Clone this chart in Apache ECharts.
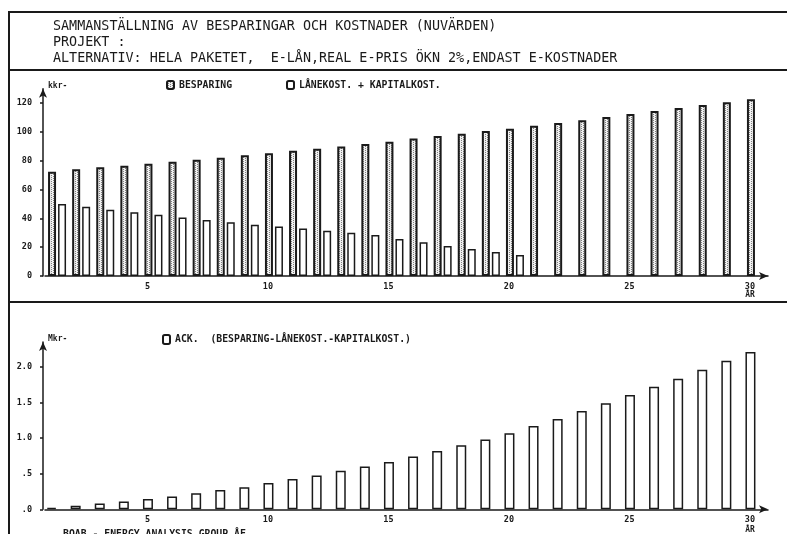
<!DOCTYPE html>
<html>
<head>
<meta charset="utf-8">
<script src="https://cdn.jsdelivr.net/npm/echarts@6/dist/echarts.min.js"></script>
<style>
html,body{margin:0;padding:0;background:#fff;}
#c{width:787px;height:534px;}
</style>
</head>
<body>
<div id="c"></div>
<script>
// ---- data ----
const years = ['1','2','3','4','5','6','7','8','9','10','11','12','13','14','15','16','17','18','19','20','21','22','23','24','25','26','27','28','29','30'];
const besparing = [72.4,74.1,75.5,76.6,78.0,79.4,80.8,82.2,83.8,85.2,87.0,88.4,90.0,91.7,93.3,95.4,97.2,98.8,100.7,102.3,104.4,106.3,108.1,110.4,112.5,114.6,116.7,118.8,120.6,122.7];
const lanekost = [50.0,48.1,46.0,44.2,42.6,40.7,38.9,37.3,35.6,34.3,32.9,31.5,30.1,28.5,25.7,23.4,20.8,18.8,16.7,14.6,'-','-','-','-','-','-','-','-','-','-'];
const ack = [0.02,0.05,0.08,0.11,0.145,0.18,0.225,0.27,0.31,0.37,0.425,0.475,0.54,0.60,0.665,0.74,0.82,0.90,0.98,1.07,1.17,1.27,1.38,1.49,1.605,1.72,1.835,1.96,2.085,2.21];
const topYTicks = [0,20,40,60,80,100,120];
const botYTicks = [0,0.5,1,1.5,2];
const botYLabels = ['.0','.5','1.0','1.5','2.0'];
const xTickLabels = ['5','10','15','20','25','30'];
const headerLines = [
  'SAMMANSTÄLLNING AV BESPARINGAR OCH KOSTNADER (NUVÄRDEN)',
  'PROJEKT :',
  'ALTERNATIV: HELA PAKETET,  E-LÅN,REAL E-PRIS ÖKN 2%,ENDAST E-KOSTNADER'
];
const names = {
  bes: 'BESPARING',
  lan: 'LÅNEKOST. + KAPITALKOST.',
  ack: 'ACK.  (BESPARING-LÅNEKOST.-KAPITALKOST.)'
};

// ---- styles ----
const INK = '#1a1a1a';
const MONO = 'DejaVu Sans Mono';
const pc = document.createElement('canvas');
pc.width = 4; pc.height = 4;
const pctx = pc.getContext('2d');
pctx.fillStyle = '#f0f0f0'; pctx.fillRect(0,0,4,4);
pctx.fillStyle = '#808080';
pctx.fillRect(1,0,1,1); pctx.fillRect(1,2,1,1);
pctx.fillRect(3,1,1,1); pctx.fillRect(3,3,1,1);
const pattern = {image: pc, repeat: 'repeat'};

const chart = echarts.init(document.getElementById('c'));

function xAxisCfg(gridIndex, pad){
  return {
    type: 'category', gridIndex: gridIndex, data: years,
    boundaryGap: true,
    axisLine: {show: true, symbol: ['none','arrow'], symbolSize: [6,9], lineStyle: {color: INK, width: 1.5}},
    axisTick: {show: false},
    splitLine: {show: false},
    axisLabel: {
      interval: (i, v) => xTickLabels.indexOf(v) >= 0,
      color: INK, fontFamily: MONO, fontWeight: 'bold', fontSize: 8.5, margin: 6,
      padding: [0, pad, 0, 0]
    }
  };
}
function yAxisCfg(gridIndex, max, ticks, fmt){
  return {
    type: 'value', gridIndex: gridIndex, min: 0, max: max, offset: 2,
    axisLine: {show: true, symbol: ['none','arrow'], symbolSize: [6,9], lineStyle: {color: INK, width: 1.5}},
    axisTick: {show: true, length: 3, customValues: ticks, lineStyle: {color: INK, width: 1.5}},
    splitLine: {show: false},
    axisLabel: {customValues: ticks, formatter: fmt, color: INK, fontFamily: MONO, fontWeight: 'bold', fontSize: 8.5, margin: 11}
  };
}

const legendText = {color: INK, fontFamily: MONO, fontWeight: 'bold', fontSize: 9.8};
const legendBase = {itemWidth: 7, itemHeight: 8, itemGap: 4, padding: 0, textStyle: legendText, selectedMode: false};

chart.setOption({
  backgroundColor: '#fff',
  animation: false,
  grid: [
    {left: 45, right: 19, top: 88.8, bottom: 258},
    {left: 45, right: 19, top: 342, bottom: 24.7}
  ],
  xAxis: [xAxisCfg(0, 12), xAxisCfg(1, 12)],
  yAxis: [
    yAxisCfg(0, 130, topYTicks, v => String(v)),
    yAxisCfg(1, 2.35, botYTicks, v => botYLabels[botYTicks.indexOf(v)] || '')
  ],
  legend: [
    Object.assign({data: [names.bes], left: 166, top: 80}, legendBase),
    Object.assign({data: [names.lan], left: 286, top: 80}, legendBase),
    Object.assign({data: [names.ack], left: 162, top: 334}, legendBase, {itemHeight: 9})
  ],
  series: [
    {name: names.bes, type: 'bar', xAxisIndex: 0, yAxisIndex: 0, data: besparing,
     barWidth: 8, barGap: '25%', itemStyle: {color: pattern, borderColor: INK, borderWidth: 2}},
    {name: names.lan, type: 'bar', xAxisIndex: 0, yAxisIndex: 0, data: lanekost,
     barWidth: 8, barGap: '25%', itemStyle: {color: '#fff', borderColor: INK, borderWidth: 1.5}},
    {name: names.ack, type: 'bar', xAxisIndex: 1, yAxisIndex: 1, data: ack,
     barWidth: 10, barGap: '10%', itemStyle: {color: '#fff', borderColor: INK, borderWidth: 1.5}},
    {name: 'pad', type: 'bar', xAxisIndex: 1, yAxisIndex: 1, data: [],
     barWidth: 10, barGap: '10%', itemStyle: {color: 'rgba(0,0,0,0)'}, silent: true}
  ]
});

// ---- annotations placed through the axes ----
const topEnd = chart.convertToPixel({yAxisIndex: 0}, 130);
const botEnd = chart.convertToPixel({yAxisIndex: 1}, 2.35);
const x30a = chart.convertToPixel({xAxisIndex: 0}, '30');
const x30b = chart.convertToPixel({xAxisIndex: 1}, '30');
const base0 = chart.convertToPixel({yAxisIndex: 0}, 0);
const base1 = chart.convertToPixel({yAxisIndex: 1}, 0);

const lineStyle = {stroke: INK, lineWidth: 2};
const headerFont = '13.4px ' + MONO;
const graphics = [
  {type: 'line', shape: {x1: 9, y1: 12, x2: 787, y2: 12}, style: lineStyle},
  {type: 'line', shape: {x1: 9, y1: 70, x2: 787, y2: 70}, style: lineStyle},
  {type: 'line', shape: {x1: 9, y1: 302, x2: 787, y2: 302}, style: lineStyle},
  {type: 'line', shape: {x1: 9, y1: 11, x2: 9, y2: 534}, style: lineStyle},
  {type: 'text', left: 48, top: topEnd - 7, style: {text: 'kkr-', font: 'bold 8px ' + MONO, fill: INK}},
  {type: 'text', left: 48, top: botEnd - 7, style: {text: 'Mkr-', font: 'bold 8px ' + MONO, fill: INK}},
  {type: 'text', x: x30a - 6, y: base0 + 15, style: {text: 'ÅR', font: 'bold 8px ' + MONO, fill: INK, align: 'center', verticalAlign: 'top'}},
  {type: 'text', x: x30b - 6, y: base1 + 17, style: {text: 'ÅR', font: 'bold 8px ' + MONO, fill: INK, align: 'center', verticalAlign: 'top'}},
  {type: 'text', x: 63, y: 529.5, style: {text: 'BOAB - ENERGY ANALYSIS GROUP ÅF', font: 'bold 9.8px ' + MONO, fill: INK, verticalAlign: 'top'}}
];
headerLines.forEach((t, i) => {
  graphics.push({type: 'text', x: 53, y: [26.5, 42.5, 58.5][i], style: {text: t, font: headerFont, fill: INK, verticalAlign: 'middle'}});
});
chart.setOption({graphic: graphics});
</script>
</body>
</html>
